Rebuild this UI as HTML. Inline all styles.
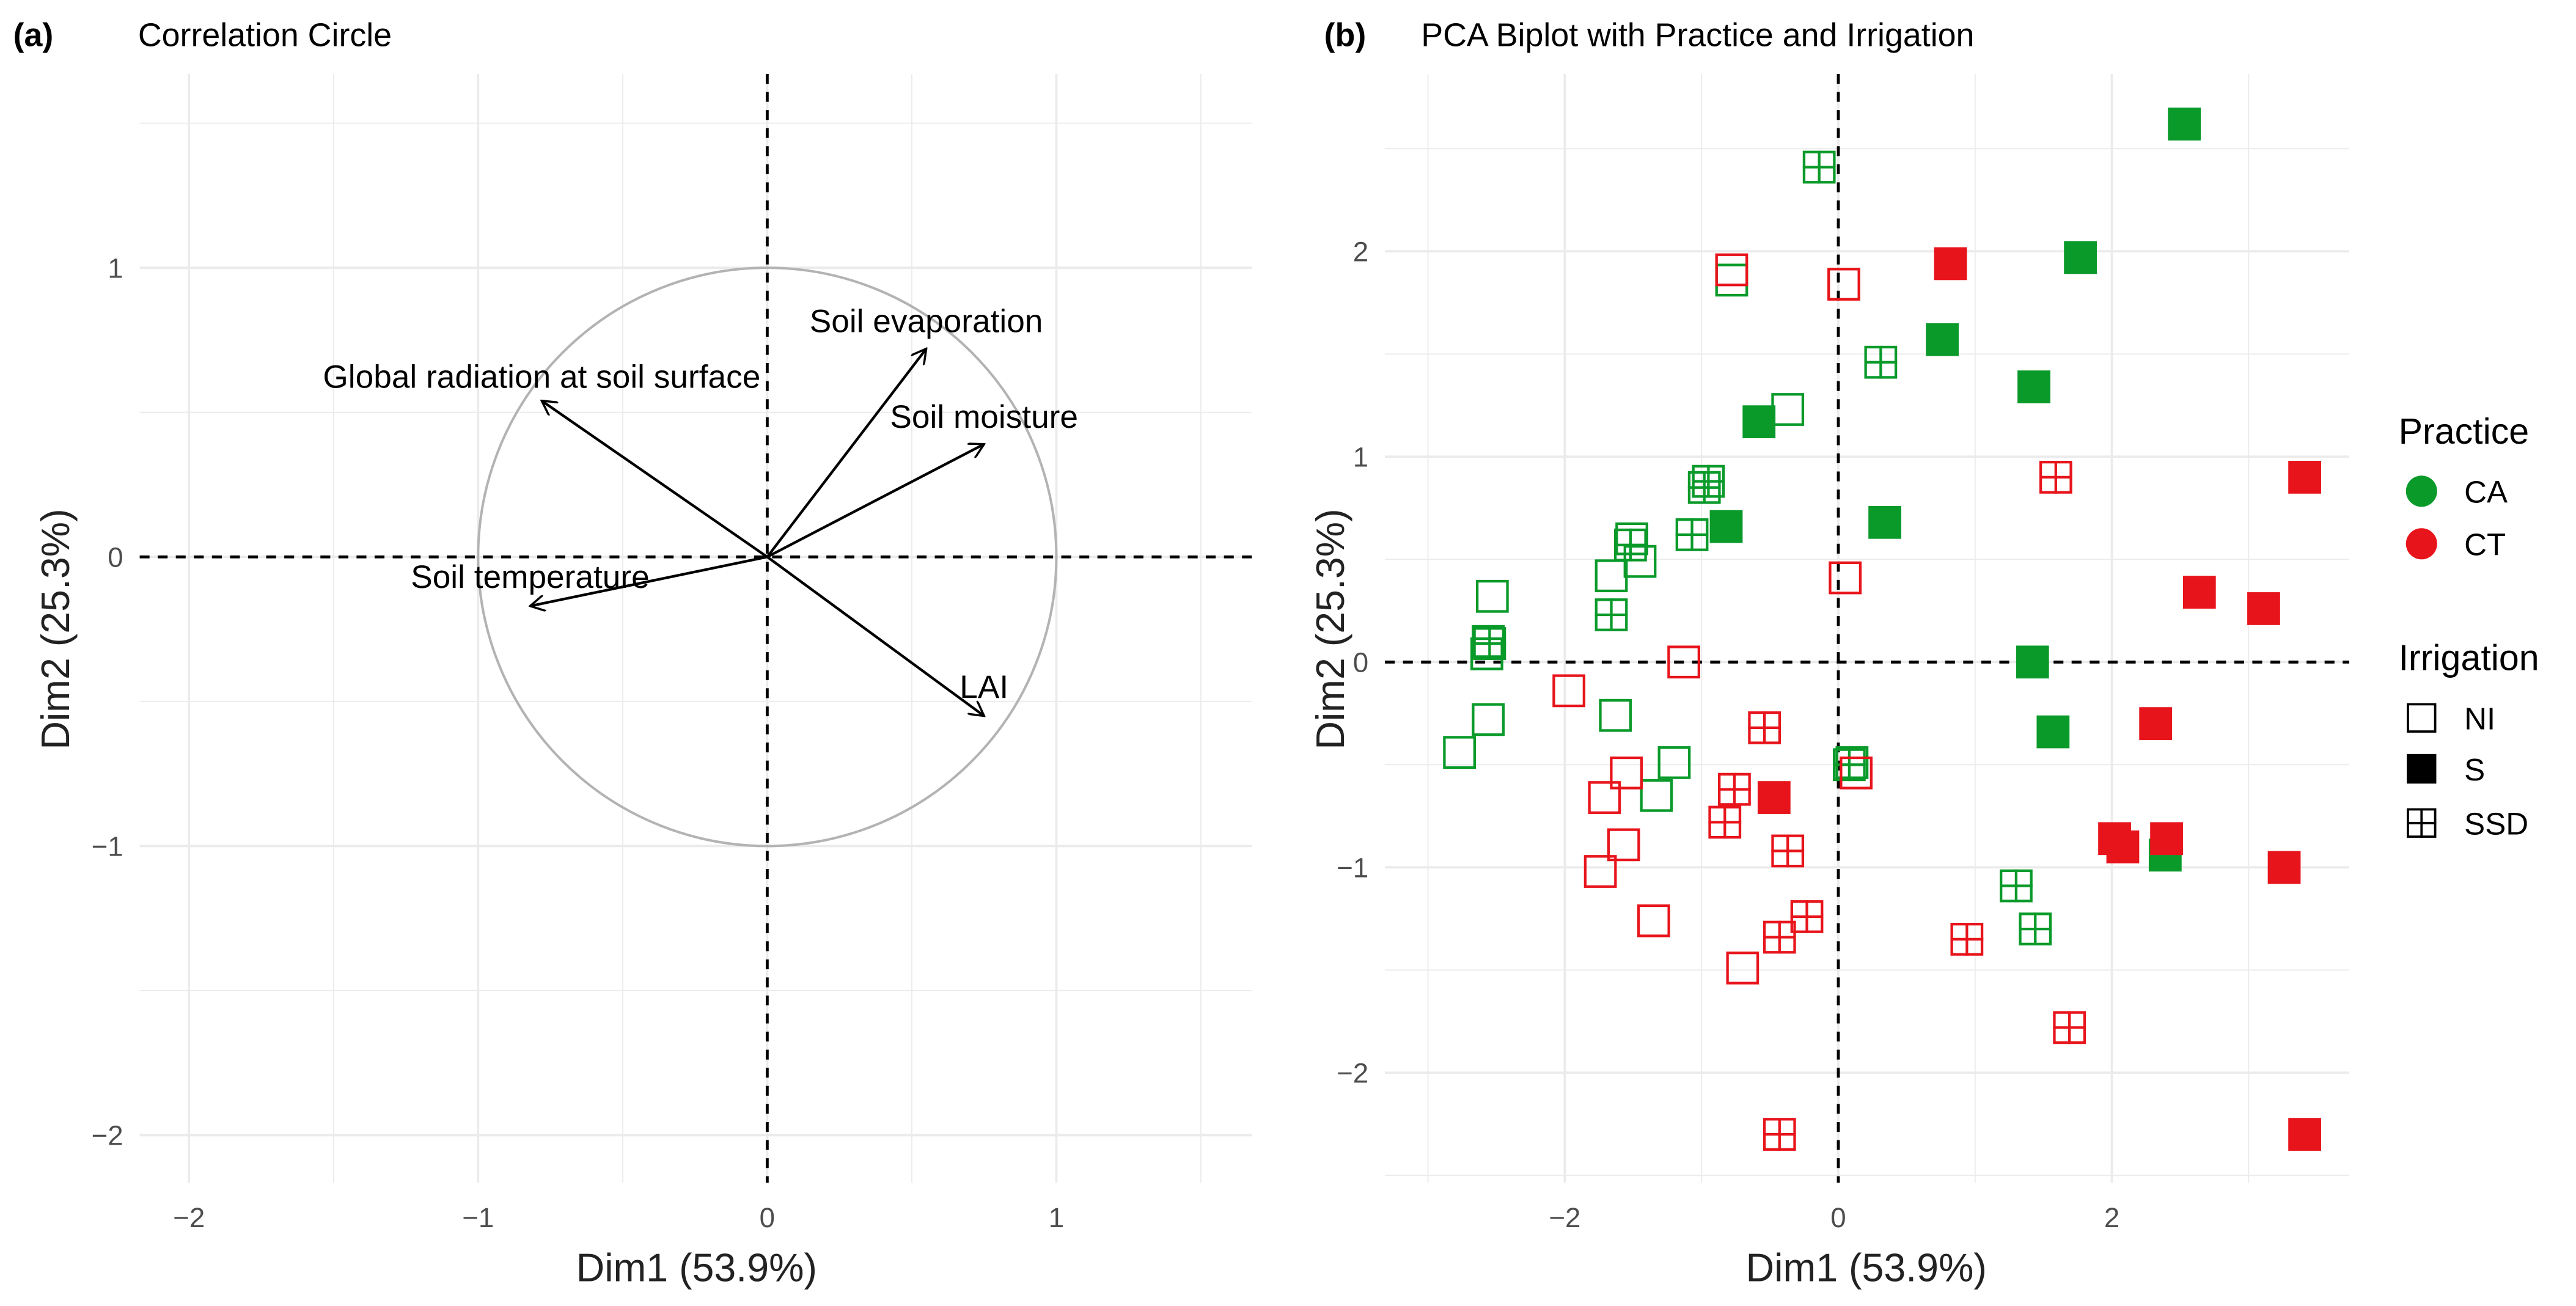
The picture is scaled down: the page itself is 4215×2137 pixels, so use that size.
<!DOCTYPE html>
<html><head><meta charset="utf-8"><style>html,body{margin:0;padding:0;background:#fff}svg{display:block}text{font-family:"Liberation Sans",Arial,sans-serif}</style></head>
<body>
<svg id="svg" width="4215" height="2137" viewBox="0 0 1568 795" xmlns="http://www.w3.org/2000/svg">
<defs><marker id="ah" markerWidth="10" markerHeight="10" refX="9" refY="5" orient="auto" markerUnits="userSpaceOnUse"><path d="M0,0 L9,5 L0,10" fill="none" stroke="#000" stroke-width="1.3"/></marker></defs>
<g id="pa"></g>
<g id="pb"></g>
<g id="lg"></g>
</svg>
<script>
const NS='http://www.w3.org/2000/svg';
function mk(p,t,a,txt){const e=document.createElementNS(NS,t);for(const k in a)e.setAttribute(k,a[k]);if(txt!==undefined)e.textContent=txt;p.appendChild(e);return e;}
// Panel A data
const varNames=['Global radiation at soil surface','Soil evaporation','Soil moisture','Soil temperature','LAI'];
const varX=[-0.78,0.55,0.75,-0.82,0.75];
const varY=[0.54,0.72,0.39,-0.17,-0.55];
const ticksA=[-2,-1,0,1];
// Panel B data
const caSx=[2.53,1.77,0.76,1.43,-0.58,-0.82,0.34,1.42,1.57,2.39];
const caSy=[2.62,1.97,1.57,1.34,1.17,0.66,0.68,0.0,-0.34,-0.94];
const ctSx=[0.82,3.41,2.64,3.11,2.32,-0.47,2.02,2.08,2.40,3.26,3.41];
const ctSy=[1.94,0.90,0.34,0.26,-0.30,-0.66,-0.86,-0.90,-0.86,-1.0,-2.30];
const caNIx=[-0.78,-0.37,-1.51,-1.45,-1.66,-2.53,-2.56,-2.57,-2.56,-2.77,-1.63,-1.20,-1.33,0.10];
const caNIy=[1.86,1.23,0.60,0.49,0.42,0.32,0.10,0.04,-0.28,-0.44,-0.26,-0.49,-0.65,-0.49];
const caSSDx=[-0.14,0.31,-0.95,-0.98,-1.07,-1.52,-1.66,-2.55,0.08,1.30,1.44];
const caSSDy=[2.41,1.46,0.88,0.85,0.62,0.57,0.23,0.09,-0.50,-1.09,-1.30];
const ctNIx=[-0.78,0.04,0.05,-1.13,-1.97,-1.71,-1.55,-1.57,-1.74,-1.35,-0.70,0.13];
const ctNIy=[1.91,1.84,0.41,0.0,-0.14,-0.66,-0.54,-0.89,-1.02,-1.26,-1.49,-0.54];
const ctSSDx=[1.59,-0.54,-0.76,-0.83,-0.37,-0.23,-0.43,0.94,1.69,-0.43];
const ctSSDy=[0.90,-0.32,-0.62,-0.78,-0.92,-1.24,-1.34,-1.35,-1.78,-2.30];
const ticksBx=[-2,0,2];
const ticksBy=[-2,-1,0,1,2];

const svg=document.getElementById('svg');
const GRID='#ebebeb',TICK='#4d4d4d';
function title(p,lbl,tt,x0,x1){
  let e=mk(p,'text',{x:x0,y:28,'font-size':20,'font-weight':'bold'},lbl);
  
  e=mk(p,'text',{x:x1,y:28,'font-size':20},tt);
  
}
// ---- Panel A
(function(){
  const p=document.getElementById('pa');
  const L=85,R=762,T=45,B=720;
  const sx=v=>467+v*176, sy=v=>339-v*176;
  for(let v=-2;v<=1.5;v+=0.5){
    let l=mk(p,'line',{x1:sx(v),x2:sx(v),y1:T,y2:B,stroke:GRID,'stroke-width':v%1===0?1.4:0.7});
    
  }
  for(let v=-2;v<=1.5;v+=0.5){
    let l=mk(p,'line',{x1:L,x2:R,y1:sy(v),y2:sy(v),stroke:GRID,'stroke-width':v%1===0?1.4:0.7});
    
  }
  ticksA.forEach(t=>{
    let e=mk(p,'text',{x:sx(t),y:B+27,'font-size':17,fill:TICK,'text-anchor':'middle'},t<0?'\u2212'+(-t):t);
    
    e=mk(p,'text',{x:L-10,y:sy(t)+6,'font-size':17,fill:TICK,'text-anchor':'end'},t<0?'\u2212'+(-t):t);
    
  });
  let c=mk(p,'circle',{cx:sx(0),cy:sy(0),r:176,fill:'none',stroke:'#b3b3b3','stroke-width':1.5});
  
  let l=mk(p,'line',{x1:L,x2:R,y1:sy(0),y2:sy(0),stroke:'#000','stroke-width':1.8,'stroke-dasharray':'6,5'});
  
  l=mk(p,'line',{x1:sx(0),x2:sx(0),y1:T,y2:B,stroke:'#000','stroke-width':1.8,'stroke-dasharray':'6,5'});
  
  const off=[[0,-8],[0,-10],[0,-10],[0,-11],[0,-11]];
  varNames.forEach((n,i)=>{
    let a=mk(p,'line',{x1:sx(0),y1:sy(0),x2:sx(varX[i]),y2:sy(varY[i]),stroke:'#000','stroke-width':1.6,'marker-end':'url(#ah)'});
    
    let t=mk(p,'text',{x:sx(varX[i])+off[i][0],y:sy(varY[i])+off[i][1],'font-size':19.8,'text-anchor':'middle'},n);
    
  });
  let e=mk(p,'text',{x:424,y:780,'font-size':24,fill:'#222','text-anchor':'middle'},'Dim1 (53.9%)');
  
  e=mk(p,'text',{x:0,y:0,'font-size':24,fill:'#222','text-anchor':'middle',transform:'translate(42,383) rotate(-90)'},'Dim2 (25.3%)');
  
  title(p,'(a)','Correlation Circle',8,84);
})();
// ---- Panel B
(function(){
  const p=document.getElementById('pb');
  const L=843,R=1430,T=45,B=720;
  const sx=v=>1119+v*83.25, sy=v=>403-v*125;
  for(let v=-3;v<=3;v+=1){
    let l=mk(p,'line',{x1:sx(v),x2:sx(v),y1:T,y2:B,stroke:GRID,'stroke-width':v%2===0?1.4:0.7});
    
  }
  for(let v=-2.5;v<=2.5;v+=0.5){
    let l=mk(p,'line',{x1:L,x2:R,y1:sy(v),y2:sy(v),stroke:GRID,'stroke-width':v%1===0?1.4:0.7});
    
  }
  ticksBx.forEach(t=>{let e=mk(p,'text',{x:sx(t),y:B+27,'font-size':17,fill:TICK,'text-anchor':'middle'},t<0?'\u2212'+(-t):t);
    });
  ticksBy.forEach(t=>{let e=mk(p,'text',{x:L-10,y:sy(t)+6,'font-size':17,fill:TICK,'text-anchor':'end'},t<0?'\u2212'+(-t):t);
    });
  let l=mk(p,'line',{x1:L,x2:R,y1:sy(0),y2:sy(0),stroke:'#000','stroke-width':1.8,'stroke-dasharray':'6,5'});
  
  l=mk(p,'line',{x1:sx(0),x2:sx(0),y1:T,y2:B,stroke:'#000','stroke-width':1.8,'stroke-dasharray':'6,5'});
  
  const G='#0a9a2a',Rd='#e8141b',h=10;
  function pts(xs,ys,col,kind,name){
    xs.forEach((x,i)=>{
      const cx=sx(x),cy=sy(ys[i]);
      const g=mk(p,'g',{});
      
      
      if(kind==='S')mk(g,'rect',{x:cx-h,y:cy-h,width:2*h,height:2*h,fill:col});
      else{mk(g,'rect',{x:cx-h+0.8,y:cy-h+0.8,width:2*h-1.6,height:2*h-1.6,fill:'none',stroke:col,'stroke-width':1.6});
        if(kind==='SSD'){mk(g,'line',{x1:cx,x2:cx,y1:cy-h,y2:cy+h,stroke:col,'stroke-width':1.6});mk(g,'line',{x1:cx-h,x2:cx+h,y1:cy,y2:cy,stroke:col,'stroke-width':1.6});}}
    });
  }
  pts(caNIx,caNIy,G,'NI','point-ca-ni');pts(caSSDx,caSSDy,G,'SSD','point-ca-ssd');
  pts(ctNIx,ctNIy,Rd,'NI','point-ct-ni');pts(ctSSDx,ctSSDy,Rd,'SSD','point-ct-ssd');
  pts(caSx,caSy,G,'S','point-ca-s');pts(ctSx,ctSy,Rd,'S','point-ct-s');
  let e=mk(p,'text',{x:1136,y:780,'font-size':24,fill:'#222','text-anchor':'middle'},'Dim1 (53.9%)');
  
  e=mk(p,'text',{x:0,y:0,'font-size':24,fill:'#222','text-anchor':'middle',transform:'translate(818,383) rotate(-90)'},'Dim2 (25.3%)');
  
  title(p,'(b)','PCA Biplot with Practice and Irrigation',806,865);
  // Legend
  const lg=document.getElementById('lg');
  e=mk(lg,'text',{x:1460,y:270,'font-size':22},'Practice');
  [['CA',G,299],['CT',Rd,331]].forEach(d=>{
    let c=mk(lg,'circle',{cx:1474,cy:d[2],r:9.5,fill:d[1]});
    let t=mk(lg,'text',{x:1500,y:d[2]+7,'font-size':19},d[0]);
  });
  e=mk(lg,'text',{x:1460,y:408,'font-size':22},'Irrigation');
  [['NI',437],['S',468],['SSD',501]].forEach(d=>{
    const cx=1474,cy=d[1],s=9;
    const g=mk(lg,'g',{});
    if(d[0]==='S')mk(g,'rect',{x:cx-s,y:cy-s,width:2*s,height:2*s,fill:'#000'});
    else{mk(g,'rect',{x:cx-s+0.7,y:cy-s+0.7,width:2*s-1.4,height:2*s-1.4,fill:'none',stroke:'#000','stroke-width':1.4});
      if(d[0]==='SSD'){mk(g,'line',{x1:cx,x2:cx,y1:cy-s,y2:cy+s,stroke:'#000','stroke-width':1.4});mk(g,'line',{x1:cx-s,x2:cx+s,y1:cy,y2:cy,stroke:'#000','stroke-width':1.4});}}
    let t=mk(lg,'text',{x:1500,y:cy+7,'font-size':19},d[0]);
  });
})();
</script>
</body></html>
